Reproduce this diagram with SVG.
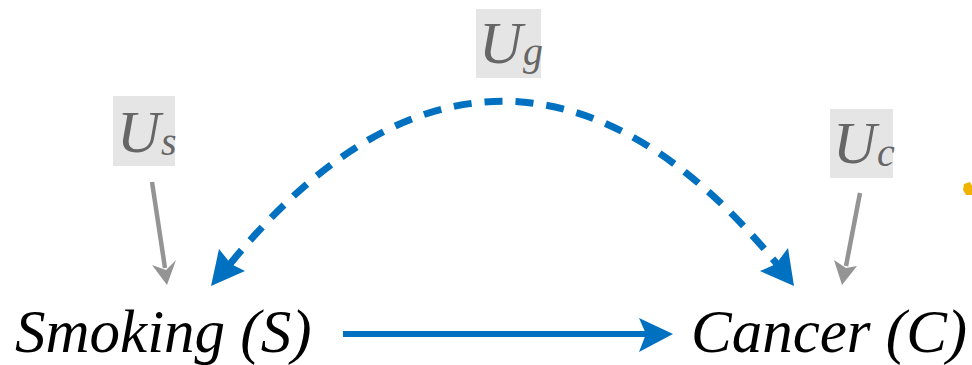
<svg xmlns="http://www.w3.org/2000/svg" width="972" height="365" viewBox="0 0 972 365">
<style>
.lbl{font-family:"Liberation Serif","Times New Roman",serif;font-style:italic;font-size:61px;fill:#000}
.u{font-family:"Liberation Serif","Times New Roman",serif;font-style:italic;font-size:60px;fill:#666}
.sub{font-size:40px}
.box{fill:#e5e5e5}
.gray{stroke:#949494;stroke-width:4.5;fill:none}
.grayhead{fill:#949494}
.blue{stroke:#0070C0;fill:none}
.bluehead{fill:#0070C0}
</style>
<rect width="972" height="365" fill="#fff"/>
<g id="Us">
<rect class="box" x="113" y="96" width="62" height="70"/>
<text class="u" x="117" y="152">U</text>
<text class="u sub" x="161" y="155">s</text>
</g>
<g id="Ug">
<rect class="box" x="476" y="9" width="65" height="69"/>
<text class="u" x="479" y="63">U</text>
<text class="u sub" x="523" y="65">g</text>
</g>
<g id="Uc">
<rect class="box" x="830" y="109" width="63" height="69"/>
<text class="u" x="833" y="163">U</text>
<text class="u sub" x="877" y="166">c</text>
</g>
<g id="S">
<text class="lbl" x="15" y="352">Smoking (S)</text>
</g>
<g id="C">
<text class="lbl" x="691" y="352">Cancer (C)</text>
</g>
<g id="connectors">
<line class="gray" x1="152" y1="182" x2="165" y2="268"/>
<polygon class="grayhead" points="167,285 152,265 166,270 176,260"/>
<line class="gray" x1="860" y1="193" x2="846" y2="266"/>
<polygon class="grayhead" points="842,285 834,260 846,268 857,266"/>
<path class="blue" d="M230,264 C407,47 599,47 777,264" stroke-width="7" stroke-dasharray="18 13"/>
<polygon class="bluehead" points="211,286 219,249 231,264 245,271"/>
<polygon class="bluehead" points="794,286 760,271 776,264 788,248"/>
<line class="blue" x1="343" y1="334" x2="648" y2="334" stroke-width="6"/>
<polygon class="bluehead" points="673,334 639,318 646,334 639,352"/>
</g>
<path d="M964,184 L970,182 L972,186 L972,195 L966,195 L963,190 Z" fill="#f0b400"/>
</svg>
